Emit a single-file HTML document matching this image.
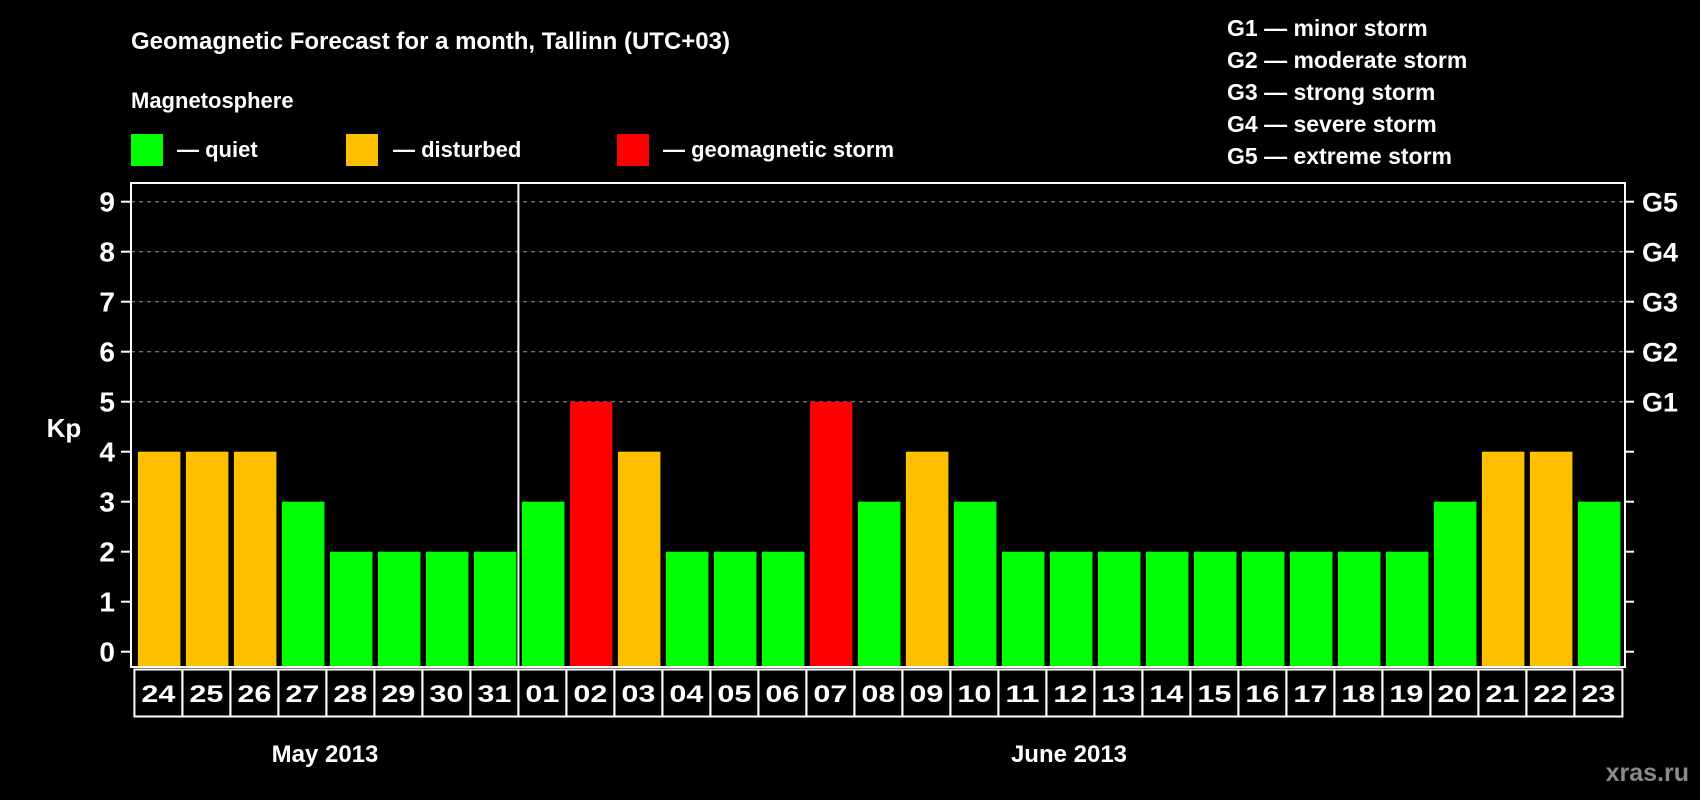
<!DOCTYPE html>
<html><head><meta charset="utf-8"><style>
html,body{margin:0;padding:0;background:#000;}
svg{display:block;}
text{font-family:"Liberation Sans",Arial,sans-serif;font-weight:bold;fill:#fff;}
</style></head><body>
<svg id="c" width="1700" height="800" viewBox="0 0 1700 800">
<rect x="0" y="0" width="1700" height="800" fill="#000"/>
<text x="131" y="49" font-size="24">Geomagnetic Forecast for a month, Tallinn (UTC+03)</text>
<text x="131" y="108" font-size="22">Magnetosphere</text>
<rect x="131" y="134" width="32" height="32" fill="#00ff00"/>
<text x="177" y="157" font-size="22">— quiet</text>
<rect x="346" y="134" width="32" height="32" fill="#ffc000"/>
<text x="393" y="157" font-size="22">— disturbed</text>
<rect x="617" y="134" width="32" height="32" fill="#ff0000"/>
<text x="663" y="157" font-size="22">— geomagnetic storm</text>
<g font-size="23">
<text x="1227" y="36" font-size="23">G1 — minor storm</text>
<text x="1227" y="68" font-size="23">G2 — moderate storm</text>
<text x="1227" y="100" font-size="23">G3 — strong storm</text>
<text x="1227" y="132" font-size="23">G4 — severe storm</text>
<text x="1227" y="164" font-size="23">G5 — extreme storm</text>
</g>
<text x="64" y="437" font-size="26" text-anchor="middle">Kp</text>
<text x="325" y="762" font-size="24" text-anchor="middle">May 2013</text>
<text x="1069" y="762" font-size="24" text-anchor="middle">June 2013</text>
<text x="1689" y="781" font-size="25" text-anchor="end" style="fill:#8a8a8a">xras.ru</text>
<g id="grid"></g><g id="bars"></g><g id="axes"></g>
</svg>
<script>
const days = ["24","25","26","27","28","29","30","31","01","02","03","04","05","06","07","08","09","10","11","12","13","14","15","16","17","18","19","20","21","22","23"];
const kpValues = [4,4,4,3,2,2,2,2,3,5,4,2,2,2,5,3,4,3,2,2,2,2,2,2,2,2,2,3,4,4,3];
const yTicks = [0,1,2,3,4,5,6,7,8,9];
const gLabels = ["G1","G2","G3","G4","G5"];
const gLevels = [5,6,7,8,9];
const monthBreakIndex = 8;

const NS = "http://www.w3.org/2000/svg";
const L = 131, R = 1625, T = 183, B = 667;
const colX0 = 134.4, pitch = 48;
const y = v => 651.7 - v * 50;
const x = i => colX0 + i * pitch;
function mk(tag, attrs, parent) {
  const e = document.createElementNS(NS, tag);
  for (const k in attrs) e.setAttribute(k, attrs[k]);
  parent.appendChild(e); return e;
}
const grid = document.getElementById('grid'), bars = document.getElementById('bars'), axes = document.getElementById('axes');
gLevels.forEach(v => {
  const l = mk('line', {x1:L, x2:R, y1:y(v), y2:y(v), stroke:'#999', 'stroke-width':1, 'stroke-dasharray':'4 4'}, grid);
  
  
});
kpValues.forEach((v, i) => {
  const col = v >= 5 ? '#ff0000' : (v >= 4 ? '#ffc000' : '#00ff00');
  const r = mk('rect', {x:x(i)+3.5, y:y(v), width:42.5, height:666-y(v), fill:col}, bars);
  
  
  const b = mk('rect', {x:x(i), y:669.5, width:pitch, height:47, fill:'none', stroke:'#fff', 'stroke-width':2}, axes);
  
  
  const t = mk('text', {x:x(i)+pitch/2, y:702, 'font-size':24, 'text-anchor':'middle', textLength:34, lengthAdjust:'spacingAndGlyphs'}, axes);
  t.textContent = days[i];
  
  
});
const fr = mk('rect', {x:L, y:T, width:R-L, height:B-T, fill:'none', stroke:'#fff', 'stroke-width':2}, axes);


const dv = mk('line', {x1:x(monthBreakIndex), x2:x(monthBreakIndex), y1:T, y2:B, stroke:'#fff', 'stroke-width':2}, axes);


yTicks.forEach(v => {
  const tl = mk('line', {x1:121, x2:L, y1:y(v), y2:y(v), stroke:'#fff', 'stroke-width':2}, axes);
  
  
  const tr = mk('line', {x1:R, x2:R+9, y1:y(v), y2:y(v), stroke:'#fff', 'stroke-width':2}, axes);
  
  
  const lb = mk('text', {x:115, y:y(v)+10, 'font-size':28, 'text-anchor':'end'}, axes);
  lb.textContent = yTicks[v];
  
  
});
gLevels.forEach((v, i) => {
  const g = mk('text', {x:1642, y:y(v)+10, 'font-size':27}, axes);
  g.textContent = gLabels[i];
  
  
});
</script>
</body></html>
